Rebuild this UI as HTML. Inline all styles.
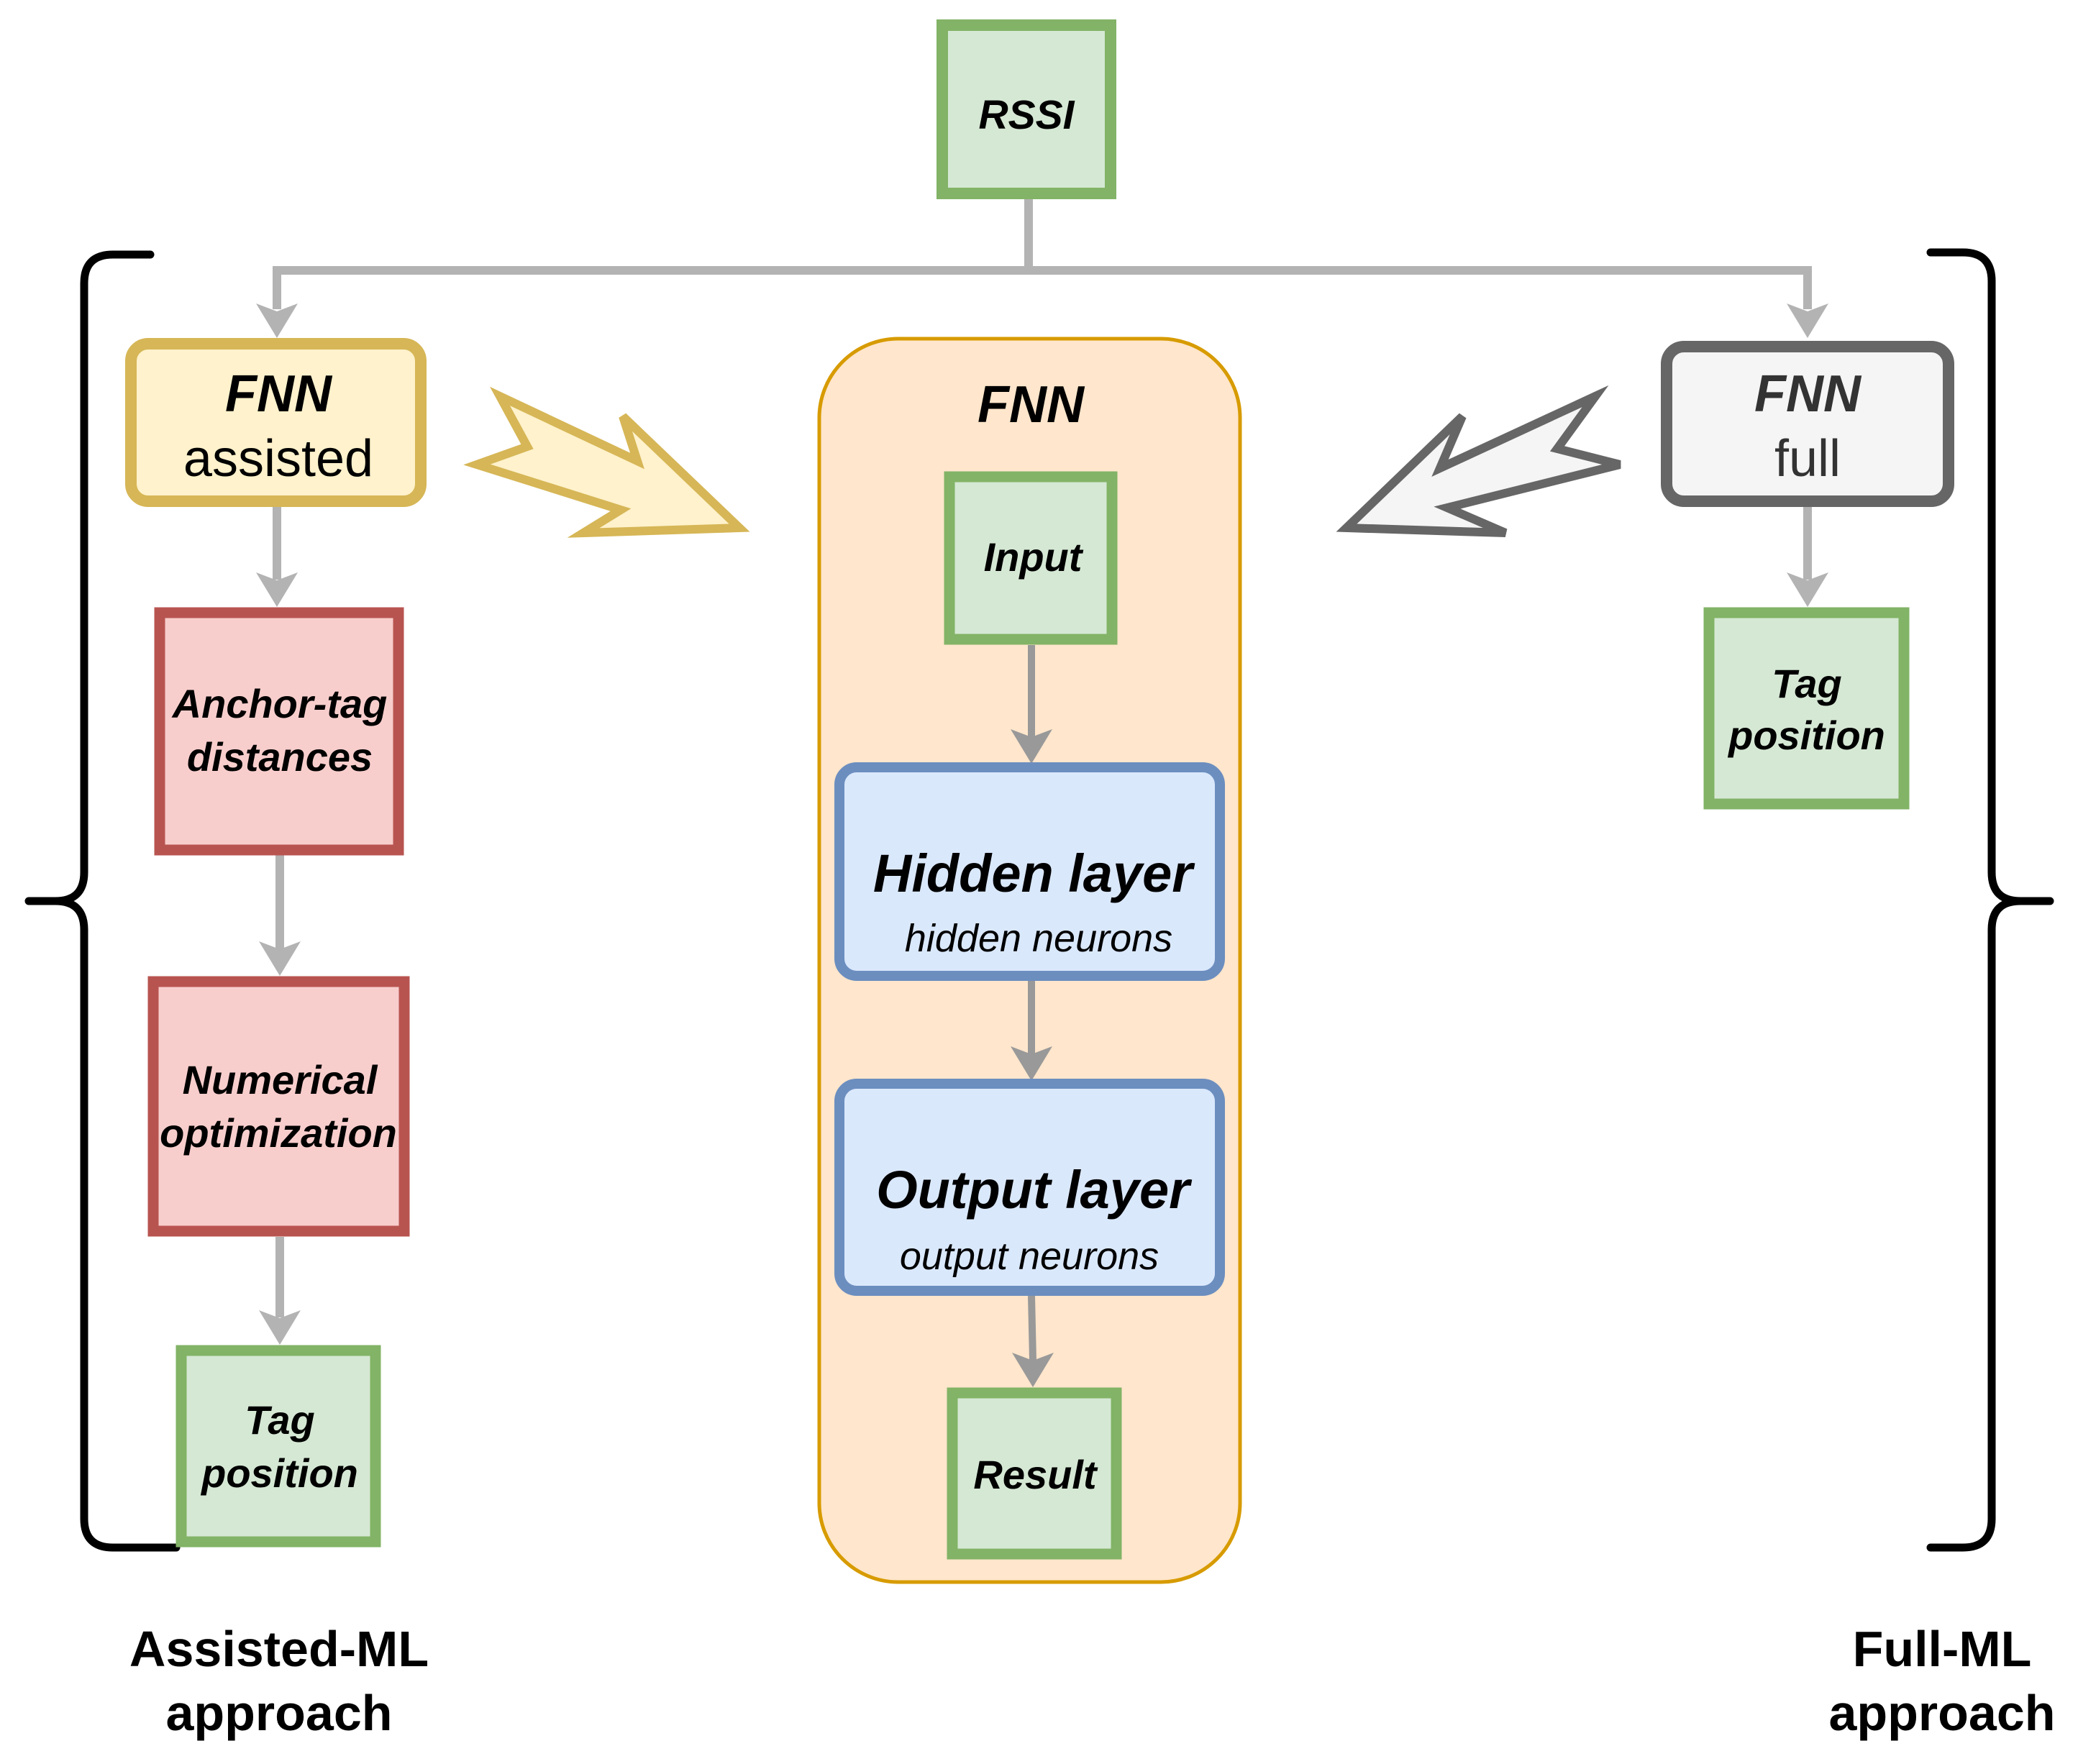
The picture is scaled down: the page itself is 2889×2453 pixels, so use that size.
<!DOCTYPE html>
<html><head><meta charset="utf-8"><style>
html,body{margin:0;padding:0;background:#fff;}
svg{display:block;}
text{font-family:"Liberation Sans",Arial,sans-serif;}
.bi{font-weight:bold;font-style:italic;}
</style></head><body>
<svg width="2889" height="2453" viewBox="0 0 2889 2453" xmlns="http://www.w3.org/2000/svg">
<defs>
<path id="ah" d="M0,0 L-29,-48 L0,-37 L29,-48 Z"/>
</defs>
<!-- connectors -->
<g stroke="#b3b3b3" stroke-width="12" fill="none">
<polyline points="1430,277 1430,376"/>
<polyline points="385,430 385,376 2513,376 2513,430"/>
<line x1="385" y1="705" x2="385" y2="806"/>
<line x1="389" y1="1189" x2="389" y2="1320"/>
<line x1="389" y1="1720" x2="389" y2="1832"/>
<line x1="2513" y1="705" x2="2513" y2="806"/>
</g>
<g fill="#b3b3b3">
<use href="#ah" x="385" y="470"/>
<use href="#ah" x="2513" y="470"/>
<use href="#ah" x="385" y="844"/>
<use href="#ah" x="389" y="1357"/>
<use href="#ah" x="389" y="1870"/>
<use href="#ah" x="2513" y="844"/>
</g>
<!-- braces -->
<g stroke="#000" stroke-width="11" fill="none" stroke-linecap="round">
<path d="M209,354 L157,354 Q117,354 117,394 L117,1213 Q117,1253 77,1253 L40,1253 M77,1253 Q117,1253 117,1293 L117,2112 Q117,2152 157,2152 L245,2152"/>
<path d="M2684,351 L2729,351 Q2769,351 2769,391 L2769,1213 Q2769,1253 2809,1253 L2850,1253 M2809,1253 Q2769,1253 2769,1293 L2769,2112 Q2769,2152 2729,2152 L2684,2152"/>
</g>
<!-- RSSI -->
<rect x="1310" y="35" width="234" height="234" fill="#d5e8d4" stroke="#82b366" stroke-width="16"/>
<text x="1427" y="179" font-size="57" class="bi" text-anchor="middle">RSSI</text>
<!-- FNN assisted -->
<rect x="182" y="478" width="403" height="219" rx="24" fill="#fff2cc" stroke="#d6b656" stroke-width="16"/>
<text x="387" y="572" font-size="72" class="bi" text-anchor="middle">FNN</text>
<text x="387" y="662" font-size="72" text-anchor="middle">assisted</text>
<!-- Anchor-tag -->
<rect x="222" y="852" width="332" height="330" fill="#f8cecc" stroke="#b85450" stroke-width="15"/>
<text x="389" y="998" font-size="56" class="bi" text-anchor="middle">Anchor-tag</text>
<text x="389" y="1072" font-size="56" class="bi" text-anchor="middle">distances</text>
<!-- Numerical -->
<rect x="213" y="1365" width="349" height="347" fill="#f8cecc" stroke="#b85450" stroke-width="15"/>
<text x="389" y="1521" font-size="56" class="bi" text-anchor="middle">Numerical</text>
<text x="387" y="1595" font-size="56" class="bi" text-anchor="middle">optimization</text>
<!-- Tag position left -->
<rect x="252" y="1878" width="270" height="266" fill="#d5e8d4" stroke="#82b366" stroke-width="15"/>
<text x="389" y="1994" font-size="56" class="bi" text-anchor="middle">Tag</text>
<text x="389" y="2068" font-size="56" class="bi" text-anchor="middle">position</text>
<!-- center container -->
<rect x="1139" y="471" width="585" height="1729" rx="110" fill="#ffe6cc" stroke="#d79b00" stroke-width="5"/>
<text x="1433" y="587" font-size="72" class="bi" text-anchor="middle">FNN</text>
<rect x="1320" y="663" width="226" height="226" fill="#d5e8d4" stroke="#82b366" stroke-width="15"/>
<text x="1436" y="794" font-size="56" class="bi" text-anchor="middle">Input</text>
<g stroke="#999" stroke-width="10"><line x1="1434" y1="897" x2="1434" y2="1030"/><line x1="1434" y1="1364" x2="1434" y2="1470"/><line x1="1434" y1="1802" x2="1436" y2="1892"/></g>
<g fill="#999"><use href="#ah" x="1434" y="1062"/><use href="#ah" x="1434" y="1503"/><use href="#ah" x="1436" y="1929"/></g>
<rect x="1167" y="1067" width="529" height="290" rx="24" fill="#dae8fc" stroke="#6c8ebf" stroke-width="14"/>
<text x="1436" y="1240" font-size="74" class="bi" text-anchor="middle">Hidden layer</text>
<text x="1444" y="1323" font-size="54" font-style="italic" text-anchor="middle">hidden neurons</text>
<rect x="1167" y="1507" width="529" height="288" rx="24" fill="#dae8fc" stroke="#6c8ebf" stroke-width="14"/>
<text x="1436" y="1680" font-size="74" class="bi" text-anchor="middle">Output layer</text>
<text x="1431" y="1765" font-size="54" font-style="italic" text-anchor="middle">output neurons</text>
<rect x="1324" y="1937" width="228" height="224" fill="#d5e8d4" stroke="#82b366" stroke-width="15"/>
<text x="1439" y="2070" font-size="56" class="bi" text-anchor="middle">Result</text>
<!-- FNN full -->
<rect x="2317" y="482" width="392" height="215" rx="24" fill="#f5f5f5" stroke="#666" stroke-width="16"/>
<text x="2513" y="572" font-size="72" class="bi" text-anchor="middle" fill="#333">FNN</text>
<text x="2513" y="662" font-size="72" text-anchor="middle" fill="#333">full</text>
<!-- Tag position right -->
<rect x="2376" y="852" width="271" height="266" fill="#d5e8d4" stroke="#82b366" stroke-width="15"/>
<text x="2512" y="970" font-size="56" class="bi" text-anchor="middle">Tag</text>
<text x="2512" y="1042" font-size="56" class="bi" text-anchor="middle">position</text>
<!-- big arrows -->
<polygon points="695,551 886,641 866,579 1028,734 811,741 863,709 663,646 733,621" fill="#fff2cc" stroke="#d6b656" stroke-width="12"/>
<polygon points="2218,551 2002,651 2033,579 1872,734 2093,741 2012,706 2252,646 2165,624" fill="#f5f5f5" stroke="#666" stroke-width="12"/>
<!-- labels -->
<text x="388" y="2317" font-size="70" font-weight="bold" text-anchor="middle">Assisted-ML</text>
<text x="388" y="2406" font-size="70" font-weight="bold" text-anchor="middle">approach</text>
<text x="2700" y="2317" font-size="70" font-weight="bold" text-anchor="middle">Full-ML</text>
<text x="2700" y="2406" font-size="70" font-weight="bold" text-anchor="middle">approach</text>
</svg>
</body></html>
